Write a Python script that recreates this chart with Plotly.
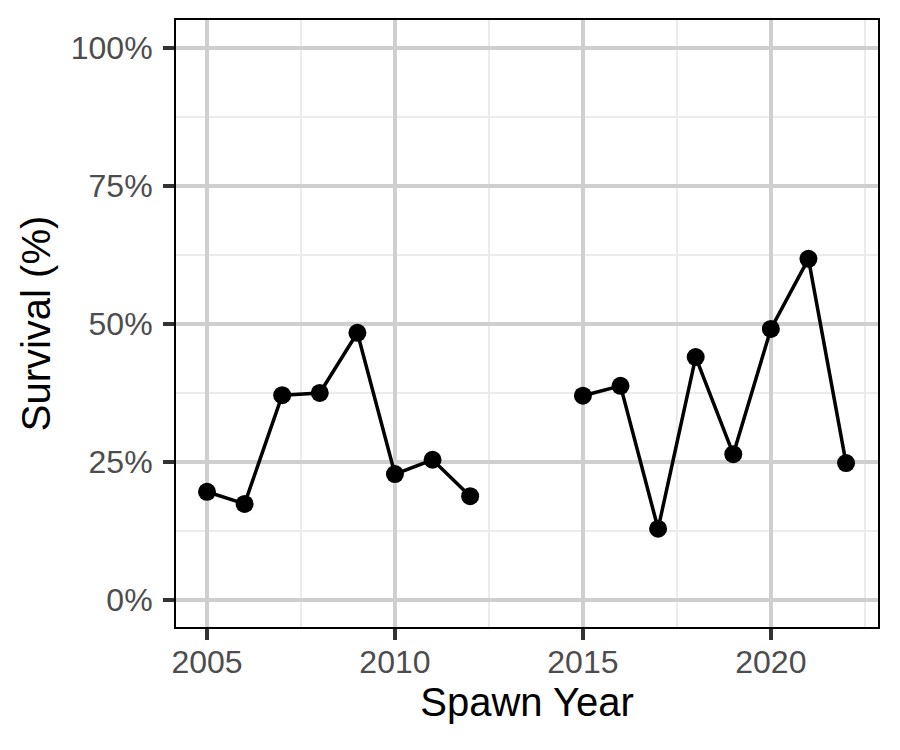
import plotly.graph_objects as go

years = [2005, 2006, 2007, 2008, 2009, 2010, 2011, 2012, 2013, 2014,
         2015, 2016, 2017, 2018, 2019, 2020, 2021, 2022]
survival = [0.196, 0.174, 0.371, 0.375, 0.484, 0.228, 0.254, 0.188, None, None,
            0.370, 0.388, 0.129, 0.440, 0.264, 0.491, 0.618, 0.248]
x_ticks = [2005, 2010, 2015, 2020]
y_ticks = [0, 0.25, 0.5, 0.75, 1.0]
y_labels = ["0%", "25%", "50%", "75%", "100%"]

fig = go.Figure()
fig.add_trace(go.Scatter(
    x=years, y=survival, mode="lines+markers",
    line=dict(color="black", width=3.5),
    marker=dict(color="black", size=18),
    connectgaps=False, showlegend=False,
))

font = "Liberation Sans, Arial, sans-serif"
fig.update_layout(
    width=900, height=750,
    margin=dict(l=176, r=22, t=20, b=123),
    plot_bgcolor="white", paper_bgcolor="white",
    font=dict(family=font),
)
fig.update_xaxes(
    range=[2004.175, 2022.85],
    tickvals=x_ticks, ticktext=[str(v) for v in x_ticks],
    showgrid=True, gridcolor="#cfcfcf", gridwidth=3.5,
    minor=dict(tickvals=[2007.5, 2012.5, 2017.5, 2022.5], showgrid=True,
               gridcolor="#ebebeb", gridwidth=1.8, ticks=""),
    ticks="outside", ticklen=11, tickwidth=3.5, tickcolor="#333333",
    tickfont=dict(size=32, color="#4d4d4d", family=font),
    ticklabelstandoff=-5,
    showline=True, linecolor="black", linewidth=2, mirror=True,
    zeroline=False,
    title=dict(text="Spawn Year", font=dict(size=40, color="black", family=font), standoff=8),
)
fig.update_yaxes(
    range=[-0.049, 1.0507],
    tickvals=y_ticks, ticktext=y_labels,
    showgrid=True, gridcolor="#cfcfcf", gridwidth=3.5,
    minor=dict(tickvals=[0.125, 0.375, 0.625, 0.875], showgrid=True,
               gridcolor="#ebebeb", gridwidth=1.8, ticks=""),
    ticks="outside", ticklen=11, tickwidth=3.5, tickcolor="#333333",
    tickfont=dict(size=32, color="#4d4d4d", family=font),
    ticklabelstandoff=4,
    showline=True, linecolor="black", linewidth=2, mirror=True,
    zeroline=False,
    title=dict(text="Survival (%)", font=dict(size=40, color="black", family=font), standoff=8),
)

fig.write_html("out.html")
